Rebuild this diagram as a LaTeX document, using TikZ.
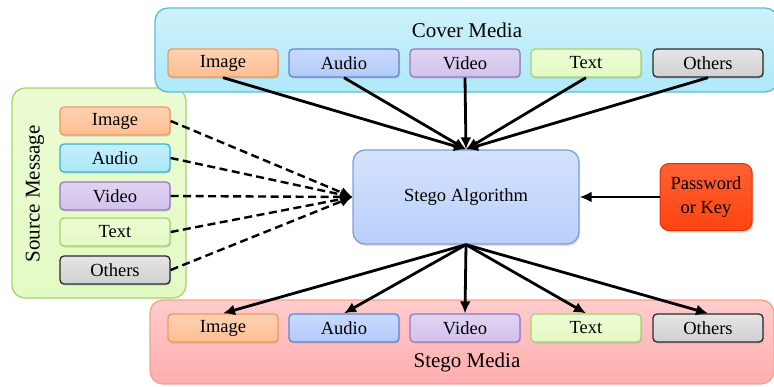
\documentclass[tikz,border=0pt]{standalone}
\usepackage{fontspec}
\setmainfont{Liberation Serif}
\usetikzlibrary{positioning}
\usetikzlibrary{arrows.meta}
\usetikzlibrary{shadows}
\definecolor{mpeach}{HTML}{FDBE92}
\definecolor{mpeachd}{HTML}{F29A5C}
\definecolor{mblue}{HTML}{B2CAFA}
\definecolor{mblued}{HTML}{5E88CF}
\definecolor{mcyan}{HTML}{ABE8F8}
\definecolor{mcyand}{HTML}{3BB3D3}
\definecolor{mviolet}{HTML}{D2C2EC}
\definecolor{mvioletd}{HTML}{9478C0}
\definecolor{mlime}{HTML}{E4FAC4}
\definecolor{mlimed}{HTML}{A6D46C}
\definecolor{mgrey}{HTML}{D0D0D0}
\definecolor{mgreyd}{HTML}{2A2A2A}
\definecolor{mred}{HTML}{FF4410}
\definecolor{mredd}{HTML}{E03400}
\tikzset{panel/.style = {draw, line width = 1.3, rounded corners = 13, inner sep = 0},
  ttl/.style = {font = \fontsize{21}{23}\selectfont},
  media/.style = {draw, line width = 1.3, rounded corners = 4, inner sep = 0,
    minimum width = 110, minimum height = 28,
    font = \fontsize{18.5}{20}\selectfont,
    drop shadow = {opacity = 0.25, shadow xshift = 1pt, shadow yshift = -1.5pt}},
  conn/.style = {line width = 2.8, -{Latex[length = 12, width = 11]}},
  dconn/.style = {conn, line width = 2.4, dash pattern = on 8 off 4.5}}

\begin{document}
\begin{tikzpicture}[x=1pt, y=-1pt]
      \useasboundingbox (0, 0) rectangle (774, 386);
      % the three panels
      \node [panel, draw=mlimed, top color=mlime!75, bottom color=mlime,
        minimum width = 174, minimum height = 210] (srcp) at (99, 193) {};
      \node [ttl, rotate=90] (srct) at (35, 194) {Source Message};
      \node [panel, draw=mcyand!85, top color=mcyan!60, bottom color=mcyan!95,
        minimum width = 623, minimum height = 84] (covp) at (466.5, 50) {};
      \node [ttl] (covt) at (467, 30) {Cover Media};
      \node [panel, draw=mredd!45, top color=red!20, bottom color=red!32,
        minimum width = 624, minimum height = 84] (outp) at (462, 342) {};
      \node [ttl] (outt) at (467, 362) {Stego Media};
      % cover media boxes
      \node [media, draw=mpeachd, top color=mpeach!70, bottom color=mpeach] (cimg) at (223, 63) {Image};
      \node [media, draw=mblued, top color=mblue!70, bottom color=mblue] (caud) at (344, 63) {Audio};
      \node [media, draw=mvioletd, top color=mviolet!70, bottom color=mviolet] (cvid) at (465, 63) {Video};
      \node [media, draw=mlimed, top color=mlime!70, bottom color=mlime] (ctxt) at (586, 63) {Text};
      \node [media, draw=mgreyd, top color=mgrey!55, bottom color=mgrey] (coth) at (708, 63) {Others};
      % source message boxes
      \node [media, draw=mpeachd, top color=mpeach!70, bottom color=mpeach] (simg) at (115, 121) {Image};
      \node [media, draw=mcyand, top color=mcyan!70, bottom color=mcyan] (saud) at (115, 158) {Audio};
      \node [media, draw=mvioletd, top color=mviolet!70, bottom color=mviolet] (svid) at (115, 196) {Video};
      \node [media, draw=mlimed, top color=mlime!70, bottom color=mlime] (stxt) at (115, 232) {Text};
      \node [media, draw=mgreyd, top color=mgrey!55, bottom color=mgrey] (soth) at (115, 270) {Others};
      % stego media boxes
      \node [media, draw=mpeachd, top color=mpeach!70, bottom color=mpeach] (oimg) at (223, 328) {Image};
      \node [media, draw=mblued, top color=mblue!70, bottom color=mblue] (oaud) at (344, 328) {Audio};
      \node [media, draw=mvioletd, top color=mviolet!70, bottom color=mviolet] (ovid) at (465, 328) {Video};
      \node [media, draw=mlimed, top color=mlime!70, bottom color=mlime] (otxt) at (586, 328) {Text};
      \node [media, draw=mgreyd, top color=mgrey!55, bottom color=mgrey] (ooth) at (708, 328) {Others};
      % algorithm and key
      \node [draw=mblued!80, line width = 1.3, rounded corners = 12, inner sep = 0,
        minimum width = 226, minimum height = 94, top color=mblue!55, bottom color=mblue!90,
        font = \fontsize{18.5}{20}\selectfont,
        drop shadow = {opacity = 0.25, shadow xshift = 1pt, shadow yshift = -2pt}]
        (alg) at (466, 197) {Stego Algorithm};
      \node [draw=mredd, line width = 1, rounded corners = 9, inner sep = 0,
        minimum width = 92, minimum height = 67, top color=mred!85, bottom color=mred,
        align = center, font = \fontsize{18.5}{24}\selectfont,
        drop shadow = {opacity = 0.3, shadow xshift = 1.5pt, shadow yshift = -2pt}]
        (key) at (706, 197) {Password\\or Key};
      % connectors
      \draw [conn] (cimg.south) -- (alg.north);
      \draw [conn] (caud.south) -- (alg.north);
      \draw [conn] (cvid.south) -- (alg.north);
      \draw [conn] (ctxt.south) -- (alg.north);
      \draw [conn] (coth.south) -- (alg.north);
      \draw [dconn] (simg.east) -- (alg.west);
      \draw [dconn] (saud.east) -- (alg.west);
      \draw [dconn] (svid.east) -- (alg.west);
      \draw [dconn] (stxt.east) -- (alg.west);
      \draw [dconn] (soth.east) -- (alg.west);
      \draw [conn] (alg.south) -- (oimg.north);
      \draw [conn] (alg.south) -- (oaud.north);
      \draw [conn] (alg.south) -- (ovid.north);
      \draw [conn] (alg.south) -- (otxt.north);
      \draw [conn] (alg.south) -- (ooth.north);
      \draw [conn] (key) -- (alg);
    \end{tikzpicture}
\end{document}
